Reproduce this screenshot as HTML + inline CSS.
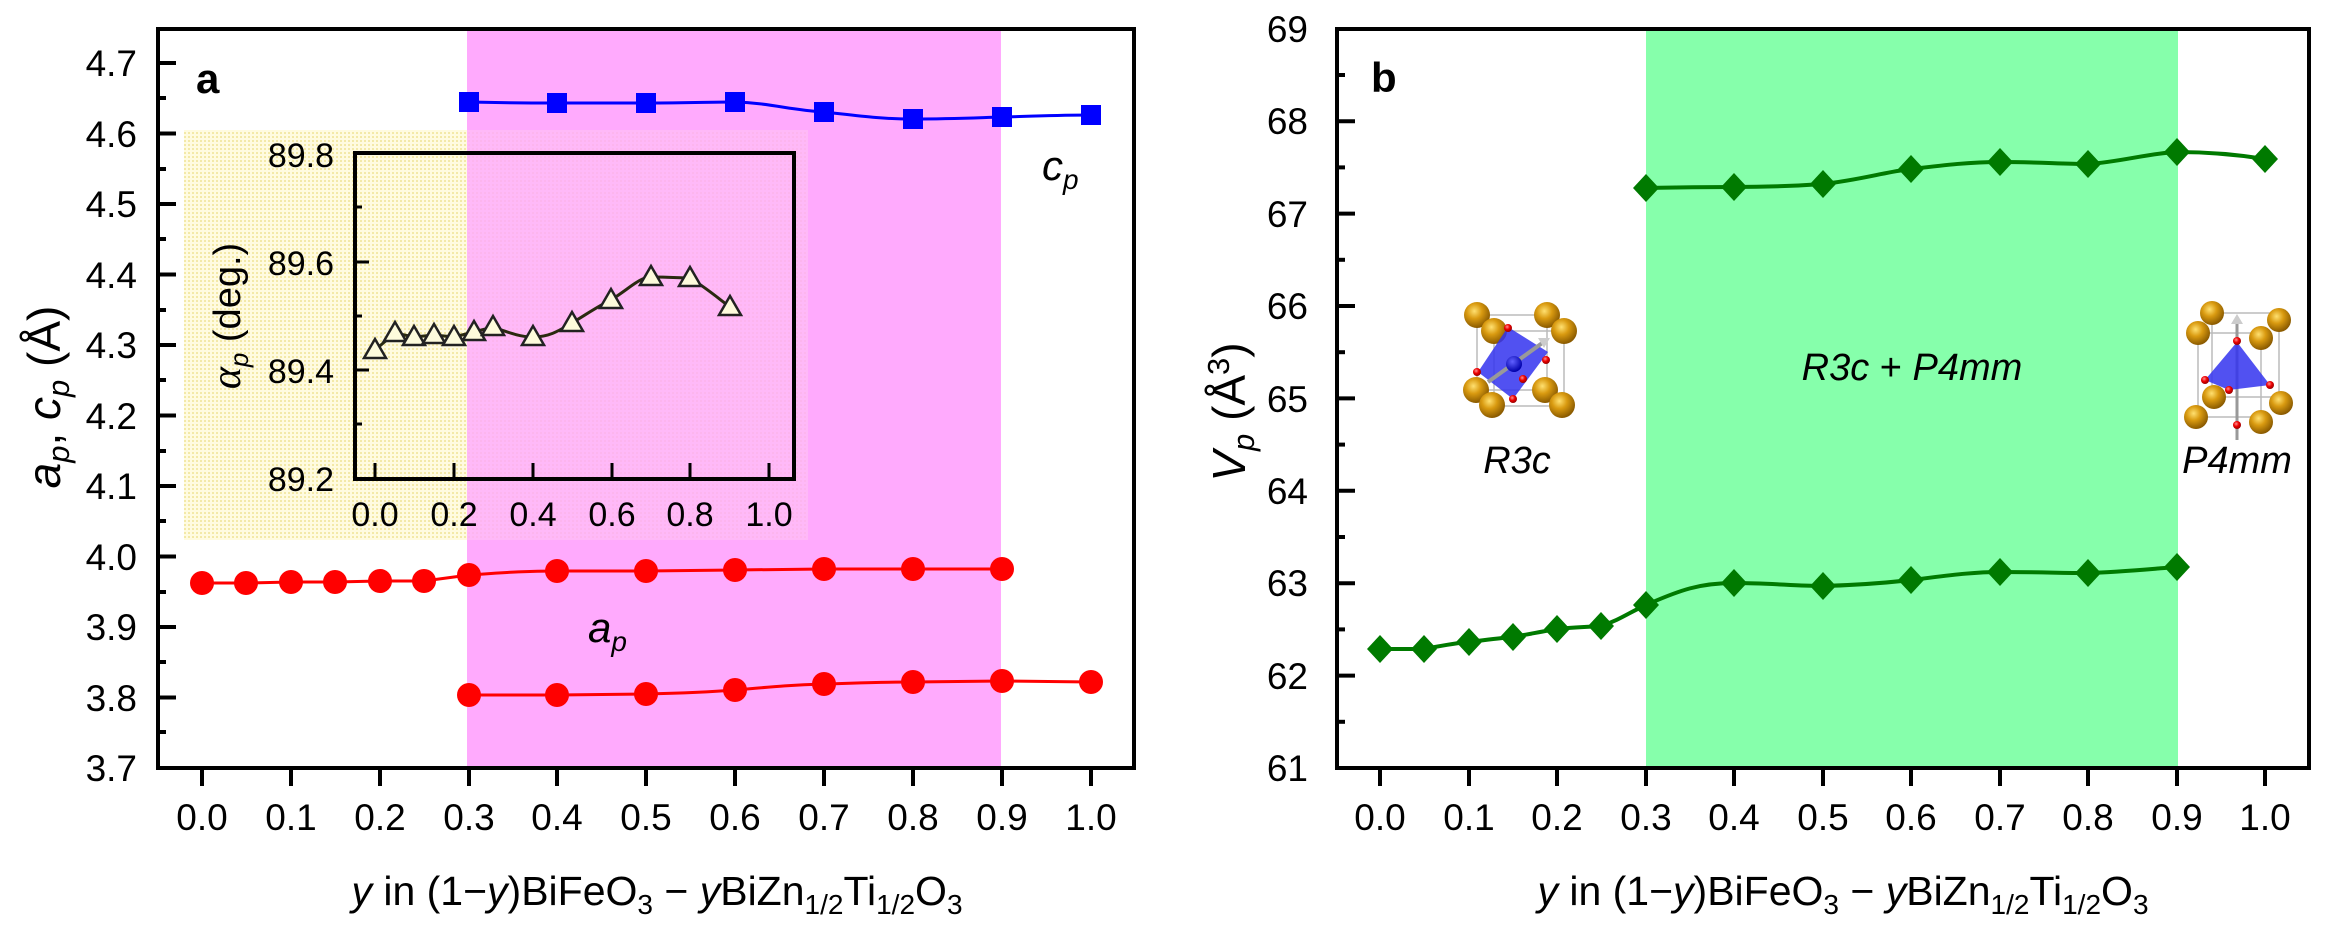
<!DOCTYPE html>
<html><head><meta charset="utf-8"><style>
html,body{margin:0;padding:0;background:#fff;}
svg{display:block;font-family:"Liberation Sans",Arial,sans-serif;}
</style></head><body>
<svg width="2330" height="933" viewBox="0 0 2330 933" xmlns="http://www.w3.org/2000/svg">
<defs>
<radialGradient id="au" cx="0.4" cy="0.35" r="0.65"><stop offset="0" stop-color="#ffe070"/><stop offset="0.45" stop-color="#d99a10"/><stop offset="1" stop-color="#8a5a00"/></radialGradient>
<radialGradient id="ox" cx="0.4" cy="0.35" r="0.65"><stop offset="0" stop-color="#ff9090"/><stop offset="0.5" stop-color="#ee0000"/><stop offset="1" stop-color="#990000"/></radialGradient>
<radialGradient id="fe" cx="0.4" cy="0.35" r="0.65"><stop offset="0" stop-color="#6060ff"/><stop offset="1" stop-color="#0000aa"/></radialGradient>
<pattern id="dots" width="4" height="4" patternUnits="userSpaceOnUse"><rect width="4" height="4" fill="#fffbe0"/><rect width="2" height="2" fill="#f3e9a8"/></pattern>
</defs>

<!-- ============ PANEL A ============ -->
<rect x="467" y="29" width="534" height="739" fill="#ffaafd"/>
<!-- inset yellow region -->
<rect x="184" y="130" width="283" height="410" fill="url(#dots)"/>
<rect x="467" y="130" width="341" height="410" fill="#ffaafd" opacity="1"/>
<rect x="467" y="130" width="341" height="410" fill="url(#dots)" opacity="0.18"/>

<!-- blue cp -->
<path d="M469,102 C510,103 530,103 557,103 C600,103 620,103 646,103 C690,103 710,102 735,102 C770,103 790,110 824,112 C860,116 880,119 913,119 C950,119 970,118 1002,117 C1040,116 1060,115 1091,115" fill="none" stroke="#0000ff" stroke-width="3"/>
<g fill="#0000ff">
<rect x="459" y="92" width="20" height="20"/><rect x="547" y="93" width="20" height="20"/><rect x="636" y="93" width="20" height="20"/><rect x="725" y="92" width="20" height="20"/><rect x="814" y="102" width="20" height="20"/><rect x="903" y="109" width="20" height="20"/><rect x="992" y="107" width="20" height="20"/><rect x="1081" y="105" width="20" height="20"/>
</g>
<!-- red ap upper -->
<path d="M202,583 L246,583 L291,582 L335,582 L380,581 L424,581 L469,575 C510,572 530,571 557,571 L646,571 L735,570 L824,569 L913,569 L1002,569" fill="none" stroke="#ff0000" stroke-width="3"/>
<path d="M469,695 L557,695 L646,694 C690,693 710,692 735,690 C770,687 790,685 824,684 C860,683 880,682 913,682 L1002,681 L1091,682" fill="none" stroke="#ff0000" stroke-width="3"/>
<g fill="#ff0000">
<circle cx="202" cy="583" r="12"/><circle cx="246" cy="583" r="12"/><circle cx="291" cy="582" r="12"/><circle cx="335" cy="582" r="12"/><circle cx="380" cy="581" r="12"/><circle cx="424" cy="581" r="12"/><circle cx="469" cy="575" r="12"/><circle cx="557" cy="571" r="12"/><circle cx="646" cy="571" r="12"/><circle cx="735" cy="570" r="12"/><circle cx="824" cy="569" r="12"/><circle cx="913" cy="569" r="12"/><circle cx="1002" cy="569" r="12"/>
<circle cx="469" cy="695" r="12"/><circle cx="557" cy="695" r="12"/><circle cx="646" cy="694" r="12"/><circle cx="735" cy="690" r="12"/><circle cx="824" cy="684" r="12"/><circle cx="913" cy="682" r="12"/><circle cx="1002" cy="681" r="12"/><circle cx="1091" cy="682" r="12"/>
</g>

<!-- inset -->
<rect x="355" y="153" width="439" height="326" fill="none" stroke="#000" stroke-width="4"/>
<g stroke="#000" stroke-width="3">
<line x1="355" y1="262" x2="369" y2="262"/><line x1="355" y1="370" x2="369" y2="370"/>
<line x1="355" y1="207" x2="362" y2="207"/><line x1="355" y1="316" x2="362" y2="316"/><line x1="355" y1="424" x2="362" y2="424"/>
<line x1="375" y1="479" x2="375" y2="463"/><line x1="454" y1="479" x2="454" y2="463"/><line x1="533" y1="479" x2="533" y2="463"/><line x1="612" y1="479" x2="612" y2="463"/><line x1="690" y1="479" x2="690" y2="463"/><line x1="769" y1="479" x2="769" y2="463"/>
</g>
<g font-size="34" text-anchor="end" fill="#000">
<text x="334" y="167">89.8</text><text x="334" y="275">89.6</text><text x="334" y="383">89.4</text><text x="334" y="491">89.2</text>
</g>
<g font-size="34" text-anchor="middle" fill="#000">
<text x="375" y="526">0.0</text><text x="454" y="526">0.2</text><text x="533" y="526">0.4</text><text x="612" y="526">0.6</text><text x="690" y="526">0.8</text><text x="769" y="526">1.0</text>
</g>
<text transform="translate(240,316) rotate(-90)" font-size="38" text-anchor="middle"><tspan font-family="Liberation Serif" font-style="italic" font-size="42">α</tspan><tspan font-style="italic" font-size="26" dy="8">p</tspan><tspan dy="-8"> (deg.)</tspan></text>
<path d="M375,350 L395,333 L414,337 L434,335 L454,337 L474,332 L493,327 C510,333 520,337 533,337 C550,337 560,330 572,323 C590,312 600,305 611,300 C630,288 640,277 651,277 C670,277 680,278 690,278 C705,287 718,298 730,307" fill="none" stroke="#2a2a10" stroke-width="3"/>
<g fill="#fdfbdc" stroke="#222" stroke-width="2.5">
<path d="M375,339 l11,19 h-22z"/><path d="M395,322 l11,19 h-22z"/><path d="M414,326 l11,19 h-22z"/><path d="M434,324 l11,19 h-22z"/><path d="M454,326 l11,19 h-22z"/><path d="M474,321 l11,19 h-22z"/><path d="M493,316 l11,19 h-22z"/><path d="M533,326 l11,19 h-22z"/><path d="M572,312 l11,19 h-22z"/><path d="M611,289 l11,19 h-22z"/><path d="M651,266 l11,19 h-22z"/><path d="M690,267 l11,19 h-22z"/><path d="M730,296 l11,19 h-22z"/>
</g>

<!-- frame a -->
<rect x="158" y="29" width="976" height="739" fill="none" stroke="#000" stroke-width="4"/>
<g stroke="#000" stroke-width="4">
<line x1="158" y1="697.5" x2="176" y2="697.5"/><line x1="158" y1="627" x2="176" y2="627"/><line x1="158" y1="556.5" x2="176" y2="556.5"/><line x1="158" y1="486" x2="176" y2="486"/><line x1="158" y1="415.5" x2="176" y2="415.5"/><line x1="158" y1="345" x2="176" y2="345"/><line x1="158" y1="274.5" x2="176" y2="274.5"/><line x1="158" y1="204" x2="176" y2="204"/><line x1="158" y1="133.5" x2="176" y2="133.5"/><line x1="158" y1="63" x2="176" y2="63"/>
<line x1="158" y1="732" x2="166" y2="732"/><line x1="158" y1="662" x2="166" y2="662"/><line x1="158" y1="592" x2="166" y2="592"/><line x1="158" y1="521" x2="166" y2="521"/><line x1="158" y1="451" x2="166" y2="451"/><line x1="158" y1="380" x2="166" y2="380"/><line x1="158" y1="310" x2="166" y2="310"/><line x1="158" y1="239" x2="166" y2="239"/><line x1="158" y1="169" x2="166" y2="169"/><line x1="158" y1="98" x2="166" y2="98"/>
<line x1="202" y1="768" x2="202" y2="786"/><line x1="291" y1="768" x2="291" y2="786"/><line x1="380" y1="768" x2="380" y2="786"/><line x1="469" y1="768" x2="469" y2="786"/><line x1="557" y1="768" x2="557" y2="786"/><line x1="646" y1="768" x2="646" y2="786"/><line x1="735" y1="768" x2="735" y2="786"/><line x1="824" y1="768" x2="824" y2="786"/><line x1="913" y1="768" x2="913" y2="786"/><line x1="1002" y1="768" x2="1002" y2="786"/><line x1="1091" y1="768" x2="1091" y2="786"/>
</g>
<g font-size="37" text-anchor="end" fill="#000">
<text x="137" y="781">3.7</text><text x="137" y="711">3.8</text><text x="137" y="640">3.9</text><text x="137" y="570">4.0</text><text x="137" y="499">4.1</text><text x="137" y="429">4.2</text><text x="137" y="358">4.3</text><text x="137" y="288">4.4</text><text x="137" y="217">4.5</text><text x="137" y="147">4.6</text><text x="137" y="76">4.7</text>
</g>
<g font-size="37" text-anchor="middle" fill="#000">
<text x="202" y="830">0.0</text><text x="291" y="830">0.1</text><text x="380" y="830">0.2</text><text x="469" y="830">0.3</text><text x="557" y="830">0.4</text><text x="646" y="830">0.5</text><text x="735" y="830">0.6</text><text x="824" y="830">0.7</text><text x="913" y="830">0.8</text><text x="1002" y="830">0.9</text><text x="1091" y="830">1.0</text>
</g>
<text x="196" y="93" font-size="42" font-weight="bold">a</text>
<text x="1042" y="180" font-size="42" font-style="italic">c<tspan font-size="28" dy="9">p</tspan></text>
<text x="588" y="642" font-size="42" font-style="italic">a<tspan font-size="28" dy="9">p</tspan></text>
<text transform="translate(60,397) rotate(-90)" font-size="46" text-anchor="middle"><tspan font-style="italic">a</tspan><tspan font-style="italic" font-size="31" dy="9">p</tspan><tspan dy="-9">, </tspan><tspan font-style="italic">c</tspan><tspan font-style="italic" font-size="31" dy="9">p</tspan><tspan dy="-9"> (Å)</tspan></text>
<text x="657" y="905" font-size="41" text-anchor="middle"><tspan font-style="italic">y</tspan> in (1−<tspan font-style="italic">y</tspan>)BiFeO<tspan font-size="28" dy="9">3</tspan><tspan dy="-9"> − </tspan><tspan font-style="italic">y</tspan>BiZn<tspan font-size="28" dy="9">1/2</tspan><tspan dy="-9">Ti</tspan><tspan font-size="28" dy="9">1/2</tspan><tspan dy="-9">O</tspan><tspan font-size="28" dy="9">3</tspan></text>

<!-- ============ PANEL B ============ -->
<rect x="1646" y="29" width="532" height="739" fill="#86ffab"/>
<path d="M1646,188 C1690,187 1710,187 1734,187 C1770,187 1795,186 1823,184 C1860,180 1885,172 1911,169 C1945,165 1970,162 2000,162 C2040,162 2060,164 2088,164 C2120,162 2150,153 2177,152 C2210,152 2240,155 2265,159" fill="none" stroke="#007a00" stroke-width="4"/>
<path d="M1380,649 L1424,649 C1440,646 1455,643 1469,642 C1485,640 1500,638 1513,637 C1530,634 1545,631 1557,629 C1575,627 1590,627 1601,626 C1620,620 1630,612 1646,605 C1680,590 1700,583 1734,583 C1770,583 1795,586 1823,586 C1860,585 1885,583 1911,580 C1945,576 1970,572 2000,572 C2040,572 2060,573 2088,573 C2120,572 2150,569 2177,567" fill="none" stroke="#007a00" stroke-width="4"/>
<g fill="#007a00">
<path d="M1646,174 l13,14 l-13,14 l-13,-14z"/><path d="M1734,173 l13,14 l-13,14 l-13,-14z"/><path d="M1823,170 l13,14 l-13,14 l-13,-14z"/><path d="M1911,155 l13,14 l-13,14 l-13,-14z"/><path d="M2000,148 l13,14 l-13,14 l-13,-14z"/><path d="M2088,150 l13,14 l-13,14 l-13,-14z"/><path d="M2177,138 l13,14 l-13,14 l-13,-14z"/><path d="M2265,145 l13,14 l-13,14 l-13,-14z"/>
<path d="M1380,635 l13,14 l-13,14 l-13,-14z"/><path d="M1424,635 l13,14 l-13,14 l-13,-14z"/><path d="M1469,628 l13,14 l-13,14 l-13,-14z"/><path d="M1513,623 l13,14 l-13,14 l-13,-14z"/><path d="M1557,615 l13,14 l-13,14 l-13,-14z"/><path d="M1601,612 l13,14 l-13,14 l-13,-14z"/><path d="M1646,591 l13,14 l-13,14 l-13,-14z"/><path d="M1734,569 l13,14 l-13,14 l-13,-14z"/><path d="M1823,572 l13,14 l-13,14 l-13,-14z"/><path d="M1911,566 l13,14 l-13,14 l-13,-14z"/><path d="M2000,558 l13,14 l-13,14 l-13,-14z"/><path d="M2088,559 l13,14 l-13,14 l-13,-14z"/><path d="M2177,553 l13,14 l-13,14 l-13,-14z"/>
</g>

<!-- R3c icon -->
<g>
<g fill="none" stroke="#bbb" stroke-width="1.5"><rect x="1477" y="315" width="70" height="75"/><rect x="1494" y="331" width="70" height="75"/></g>
<circle cx="1477" cy="315" r="13" fill="url(#au)"/><circle cx="1547" cy="315" r="13" fill="url(#au)"/>
<circle cx="1494" cy="331" r="13" fill="url(#au)"/><circle cx="1564" cy="331" r="13" fill="url(#au)"/>
<path d="M1508,327 L1548,352 L1513,399 L1478,372 Z" fill="#3333ee" opacity="0.85"/>
<line x1="1488" y1="382" x2="1545" y2="341" stroke="#999" stroke-width="4"/>
<path d="M1550,338 l-12,0 l6,10z" fill="#ccc"/>
<circle cx="1514" cy="364" r="8" fill="url(#fe)"/>
<circle cx="1508" cy="328" r="4" fill="url(#ox)"/><circle cx="1546" cy="360" r="4" fill="url(#ox)"/><circle cx="1477" cy="372" r="4" fill="url(#ox)"/><circle cx="1523" cy="379" r="4" fill="url(#ox)"/><circle cx="1513" cy="399" r="4" fill="url(#ox)"/>
<circle cx="1476" cy="390" r="13" fill="url(#au)"/><circle cx="1545" cy="390" r="13" fill="url(#au)"/>
<circle cx="1492" cy="405" r="13" fill="url(#au)"/><circle cx="1562" cy="405" r="13" fill="url(#au)"/>
</g>
<!-- P4mm icon -->
<g>
<g fill="none" stroke="#bbb" stroke-width="1.5"><rect x="2212" y="313" width="67" height="84"/><rect x="2198" y="333" width="63" height="84"/></g>
<circle cx="2212" cy="313" r="12" fill="url(#au)"/><circle cx="2279" cy="320" r="12" fill="url(#au)"/>
<circle cx="2198" cy="333" r="12" fill="url(#au)"/><circle cx="2261" cy="338" r="12" fill="url(#au)"/>
<line x1="2237" y1="440" x2="2237" y2="322" stroke="#999" stroke-width="3"/>
<path d="M2231,324 l6,-10 l6,10z" fill="#ccc"/>
<path d="M2237,342 L2205,380 L2229,390 L2270,385 Z" fill="#3333ee" opacity="0.85"/>
<circle cx="2237" cy="341" r="4" fill="url(#ox)"/><circle cx="2205" cy="380" r="4" fill="url(#ox)"/><circle cx="2270" cy="385" r="4" fill="url(#ox)"/><circle cx="2229" cy="390" r="4" fill="url(#ox)"/><circle cx="2237" cy="425" r="4" fill="url(#ox)"/>
<circle cx="2214" cy="397" r="12" fill="url(#au)"/><circle cx="2281" cy="403" r="12" fill="url(#au)"/>
<circle cx="2196" cy="417" r="12" fill="url(#au)"/><circle cx="2261" cy="422" r="12" fill="url(#au)"/>
</g>

<rect x="1337" y="29" width="972" height="739" fill="none" stroke="#000" stroke-width="4"/>
<g stroke="#000" stroke-width="4">
<line x1="1337" y1="675.6" x2="1355" y2="675.6"/><line x1="1337" y1="583.2" x2="1355" y2="583.2"/><line x1="1337" y1="490.8" x2="1355" y2="490.8"/><line x1="1337" y1="398.4" x2="1355" y2="398.4"/><line x1="1337" y1="306" x2="1355" y2="306"/><line x1="1337" y1="213.6" x2="1355" y2="213.6"/><line x1="1337" y1="121.2" x2="1355" y2="121.2"/>
<line x1="1337" y1="721.8" x2="1345" y2="721.8"/><line x1="1337" y1="629.4" x2="1345" y2="629.4"/><line x1="1337" y1="537" x2="1345" y2="537"/><line x1="1337" y1="444.6" x2="1345" y2="444.6"/><line x1="1337" y1="352.2" x2="1345" y2="352.2"/><line x1="1337" y1="259.8" x2="1345" y2="259.8"/><line x1="1337" y1="167.4" x2="1345" y2="167.4"/><line x1="1337" y1="75" x2="1345" y2="75"/>
<line x1="1380" y1="768" x2="1380" y2="786"/><line x1="1469" y1="768" x2="1469" y2="786"/><line x1="1557" y1="768" x2="1557" y2="786"/><line x1="1646" y1="768" x2="1646" y2="786"/><line x1="1734" y1="768" x2="1734" y2="786"/><line x1="1823" y1="768" x2="1823" y2="786"/><line x1="1911" y1="768" x2="1911" y2="786"/><line x1="2000" y1="768" x2="2000" y2="786"/><line x1="2088" y1="768" x2="2088" y2="786"/><line x1="2177" y1="768" x2="2177" y2="786"/><line x1="2265" y1="768" x2="2265" y2="786"/>
</g>
<g font-size="37" text-anchor="end" fill="#000">
<text x="1308" y="781">61</text><text x="1308" y="689">62</text><text x="1308" y="596">63</text><text x="1308" y="504">64</text><text x="1308" y="412">65</text><text x="1308" y="319">66</text><text x="1308" y="227">67</text><text x="1308" y="134">68</text><text x="1308" y="42">69</text>
</g>
<g font-size="37" text-anchor="middle" fill="#000">
<text x="1380" y="830">0.0</text><text x="1469" y="830">0.1</text><text x="1557" y="830">0.2</text><text x="1646" y="830">0.3</text><text x="1734" y="830">0.4</text><text x="1823" y="830">0.5</text><text x="1911" y="830">0.6</text><text x="2000" y="830">0.7</text><text x="2088" y="830">0.8</text><text x="2177" y="830">0.9</text><text x="2265" y="830">1.0</text>
</g>
<text x="1371" y="92" font-size="42" font-weight="bold">b</text>
<text x="1517" y="473" font-size="38" font-style="italic" text-anchor="middle">R3c</text>
<text x="2237" y="473" font-size="38" font-style="italic" text-anchor="middle">P4mm</text>
<text x="1912" y="380" font-size="38" text-anchor="middle"><tspan font-style="italic">R3c</tspan> + <tspan font-style="italic">P4mm</tspan></text>
<text transform="translate(1245,412) rotate(-90)" font-size="46" text-anchor="middle"><tspan font-style="italic">V</tspan><tspan font-style="italic" font-size="31" dy="9">p</tspan><tspan dy="-9"> (Å</tspan><tspan font-size="31" dy="-16">3</tspan><tspan dy="16">)</tspan></text>
<text x="1843" y="905" font-size="41" text-anchor="middle"><tspan font-style="italic">y</tspan> in (1−<tspan font-style="italic">y</tspan>)BiFeO<tspan font-size="28" dy="9">3</tspan><tspan dy="-9"> − </tspan><tspan font-style="italic">y</tspan>BiZn<tspan font-size="28" dy="9">1/2</tspan><tspan dy="-9">Ti</tspan><tspan font-size="28" dy="9">1/2</tspan><tspan dy="-9">O</tspan><tspan font-size="28" dy="9">3</tspan></text>
</svg>
</body></html>
